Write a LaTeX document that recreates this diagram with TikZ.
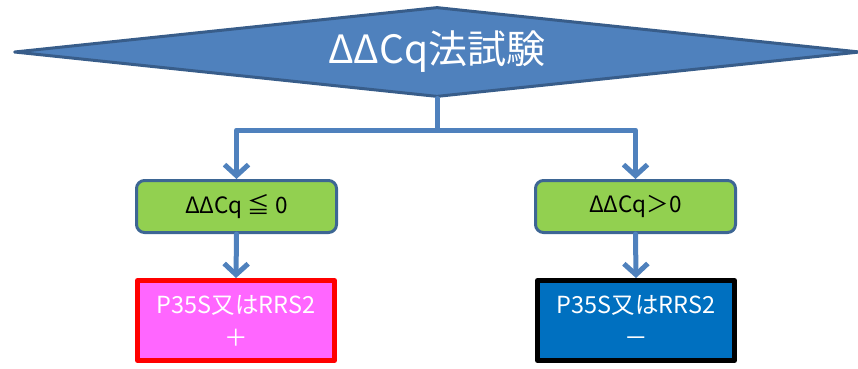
\documentclass[tikz,border=0pt]{standalone}
\usepackage{fontspec}
\setmainfont{Noto Sans CJK JP}
\usetikzlibrary{shapes.geometric,arrows.meta}
\definecolor{pptblue}{HTML}{4F81BD}
\definecolor{pptdark}{HTML}{385D8A}
\definecolor{boxline}{HTML}{3D6694}
\definecolor{pptgreen}{HTML}{92D050}
\definecolor{pptpink}{HTML}{FF66FF}
\definecolor{pptnavy}{HTML}{0070C0}
\tikzset{
  flow/.style={draw=pptblue,line width=5pt,line join=round,
    -{Straight Barb[length=11pt,width=24pt,line width=5pt]}},
  condbox/.style={draw=boxline,fill=pptgreen,line width=3pt,rounded corners=8pt,
    minimum width=200pt,minimum height=52pt,inner sep=0pt,
    font=\fontsize{22.5}{26}\selectfont},
  resultbox/.style={line width=5pt,minimum width=197pt,minimum height=80pt,inner sep=0pt,
    align=center,text=white,font=\fontsize{23.5}{33}\selectfont}
}
\begin{document}
\begin{tikzpicture}[line cap=round,line join=round,x=1pt,y=-1pt]
\useasboundingbox (0,0) rectangle (858,368);
%test
\node[diamond,aspect=9.4,draw=pptdark,fill=pptblue,line width=3pt,minimum width=846pt,
  minimum height=90pt,inner sep=0pt,text=white,font=\fontsize{39}{44}\selectfont]
  at (437,52) (test) {ΔΔCq法試験};
%conditions
\node[condbox] at (236.5,206.5) (le) {ΔΔCq ≦ 0};
\node[condbox] at (635.5,206.5) (gt) {ΔΔCq＞0};
%results
\node[resultbox,draw=red,fill=pptpink] at (236,320.5) (pos) {P35S又はRRS2\\＋};
\node[resultbox,draw=black,fill=pptnavy] at (636,320.5) (neg) {P35S又はRRS2\\－};
%%split
\coordinate (split) at (437,130);
\draw[draw=pptblue,line width=5pt] (test.south) -- (split);
\draw[flow] (split) -| (le.north);
\draw[flow] (split) -| (gt.north);
%%down
\draw[flow] (le.south) -- (pos.north);
\draw[flow] (gt.south) -- (neg.north);
\end{tikzpicture}
\end{document}
